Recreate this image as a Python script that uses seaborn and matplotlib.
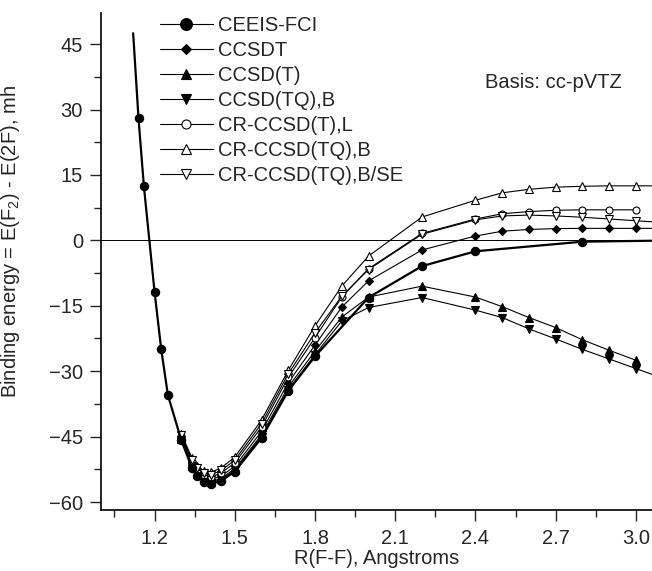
import numpy as np
import pandas as pd
import matplotlib
matplotlib.use("Agg")
from matplotlib import pyplot as plt
from matplotlib.ticker import MultipleLocator, FormatStrFormatter
import seaborn as sns

sns.set_style("white")
plt.rcParams['font.family'] = ['Liberation Sans', 'DejaVu Sans']
plt.rcParams['mathtext.default'] = 'regular'

nan = np.nan

# F-F distance, Angstroms
r_ff = [1.12, 1.14, 1.16, 1.20, 1.225, 1.25, 1.30, 1.34, 1.36, 1.385, 1.41, 1.45, 1.50,
        1.60, 1.70, 1.80, 1.90, 2.00, 2.20, 2.40, 2.50, 2.60, 2.70, 2.80, 2.90, 3.00, 3.10]

# binding energies, mh
ceeis_fci = [47.5, 28.0, 12.5, -11.8, -25.0, -35.5, -45.8, -52.2, -54.0, -55.3, -55.9, -55.1, -53.0,
             -45.3, -34.5, -26.6, nan, -13.1, -5.9, -2.5, nan, nan, nan, -0.3, nan, nan, -0.05]
ccsdt = [nan, nan, nan, nan, nan, nan, -45.3, -51.4, -53.2, -54.4, -54.9, -54.0, -51.8,
         -43.8, -32.6, -24.0, -15.3, -9.3, -2.2, 1.0, 2.1, 2.5, 2.7, 2.75, 2.75, 2.75, 2.75]
ccsd_t = [nan, nan, nan, nan, nan, nan, -45.5, -51.8, -53.6, -54.8, -55.4, -54.5, -52.4,
          -44.6, -33.6, -25.4, -17.6, -13.0, -10.5, -13.0, -15.2, -17.7, -20.0, -22.8, -25.2, -27.5, nan]
ccsd_tq_b = [nan, nan, nan, nan, nan, nan, -45.7, -52.0, -53.8, -55.0, -55.6, -54.8, -52.7,
             -45.0, -34.2, -26.2, -18.5, -15.4, -13.1, -16.0, -17.7, -20.3, -22.6, -25.0, -27.2, -29.4, -31.6]
cr_ccsd_t_l = [nan, nan, nan, nan, nan, nan, -44.8, -50.8, -52.6, -53.8, -54.3, -53.3, -51.0,
               -42.8, -31.4, -22.3, -13.0, -6.5, 1.6, 4.9, 6.1, 6.6, 6.9, 7.0, 7.0, 7.0, nan]
cr_ccsd_tq_b = [nan, nan, nan, nan, nan, nan, -44.3, -49.9, -51.7, -52.9, -53.2, -52.1, -49.7,
                -41.2, -29.8, -19.6, -10.5, -3.6, 5.35, 9.2, 10.9, 11.7, 12.2, 12.4, 12.5, 12.5, 12.5]
cr_ccsd_tq_b_se = [nan, nan, nan, nan, nan, nan, -44.6, -50.4, -52.2, -53.4, -53.8, -52.7, -50.4,
                   -42.0, -30.6, -21.2, -12.8, -6.7, 1.4, 4.7, 5.6, 5.8, 5.6, 5.3, 4.9, 4.5, 4.1]

methods = ["CEEIS-FCI", "CCSDT", "CCSD(T)", "CCSD(TQ),B",
           "CR-CCSD(T),L", "CR-CCSD(TQ),B", "CR-CCSD(TQ),B/SE"]
series = [ceeis_fci, ccsdt, ccsd_t, ccsd_tq_b, cr_ccsd_t_l, cr_ccsd_tq_b, cr_ccsd_tq_b_se]

df = pd.concat([pd.DataFrame({"R": r_ff, "E": vals, "method": m})
                for m, vals in zip(methods, series)]).dropna()

# marker, filled?, marker size, line width
styles = {
    "CEEIS-FCI": ("o", True, 6.0, 1.6),
    "CCSDT": ("D", True, 4.2, 0.8),
    "CCSD(T)": ("^", True, 5.2, 0.8),
    "CCSD(TQ),B": ("v", True, 5.2, 0.8),
    "CR-CCSD(T),L": ("o", False, 5.0, 0.8),
    "CR-CCSD(TQ),B": ("^", False, 5.2, 0.8),
    "CR-CCSD(TQ),B/SE": ("v", False, 5.2, 0.8),
}

FS = 14.5

fig = plt.figure(figsize=(6.52, 5.71), dpi=100)
ax = fig.add_axes([0.155, 0.107, 0.845, 0.870])

ax.axhline(0, color="black", lw=0.7, zorder=1)

for m in methods:
    sub = df[df["method"] == m]
    mk, filled, ms, lw = styles[m]
    extra = {}
    if m == "CEEIS-FCI":
        extra["markevery"] = list(range(1, len(sub)))
        extra["zorder"] = 5
    sns.lineplot(data=sub, x="R", y="E", ax=ax, color="black", label=m,
                 marker=mk, markersize=ms, linewidth=lw,
                 markerfacecolor="black" if filled else "white",
                 markeredgecolor="black", markeredgewidth=0.8, **extra)

ax.set_xlim(1.0, 3.06)
ax.set_ylim(-61.8, 52.1)
ax.set_xticks(np.arange(1.2, 3.01, 0.3))
ax.xaxis.set_minor_locator(MultipleLocator(0.15))
ax.xaxis.set_major_formatter(FormatStrFormatter("%.1f"))
ax.yaxis.set_major_locator(MultipleLocator(15))
ax.yaxis.set_minor_locator(MultipleLocator(7.5))
ax.tick_params(which="major", direction="out", length=8, width=1, labelsize=FS,
               bottom=True, left=True)
ax.tick_params(which="minor", direction="out", length=5, width=1, bottom=True, left=True)
ax.tick_params(axis="x", which="major", pad=6)
ax.tick_params(axis="y", which="major", pad=5)

for side in ["top", "right"]:
    ax.spines[side].set_visible(False)
for side in ["left", "bottom"]:
    ax.spines[side].set_color("black")
    ax.spines[side].set_linewidth(1.2)

ax.set_xlabel("R(F-F), Angstroms", fontsize=FS)
ax.xaxis.set_label_coords(0.5, -0.078)
ax.set_ylabel("Binding energy = E(F$_2$) - E(2F), mh", fontsize=FS)
ax.yaxis.set_label_coords(-0.143, 0.54)

leg = ax.legend(loc="upper left", bbox_to_anchor=(0.245, 0.972), bbox_transform=fig.transFigure,
                frameon=False, fontsize=FS, handlelength=2.63, handletextpad=0.25,
                labelspacing=0.3, borderpad=0, borderaxespad=0)
leg.legend_handles[0].set_markersize(8.5)
for h in leg.legend_handles[1:]:
    h.set_markersize(h.get_markersize() * 1.3)
for h in leg.legend_handles:
    h.set_linewidth(0.8)

fig.text(0.744, 0.856, "Basis: cc-pVTZ", fontsize=FS, ha="left", va="center")

fig.savefig("out.png", dpi=100)
